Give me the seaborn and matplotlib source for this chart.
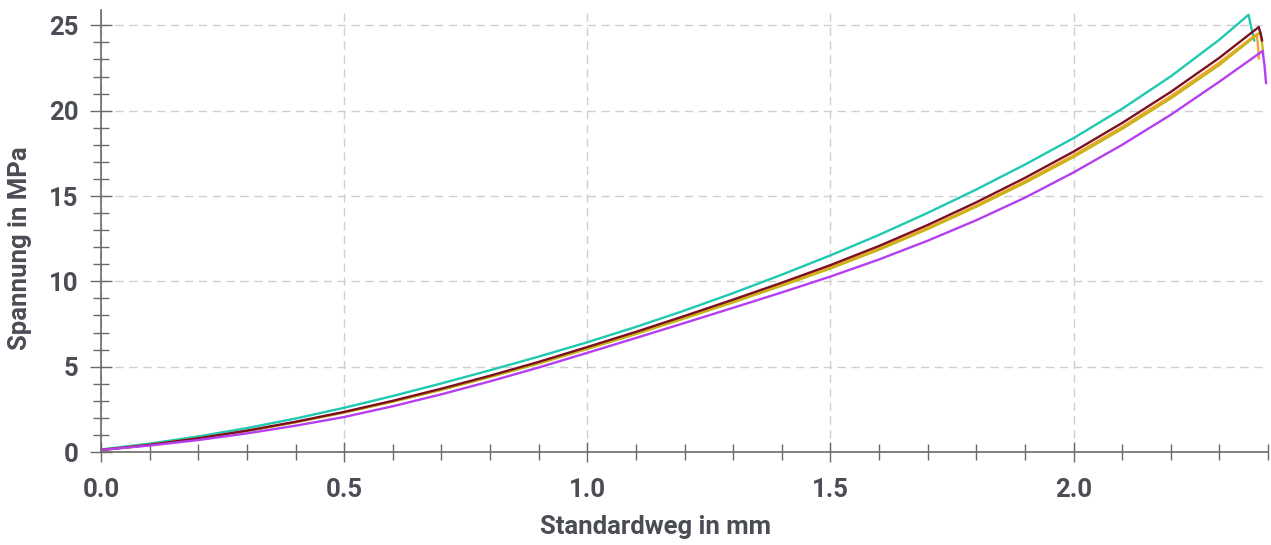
import matplotlib
matplotlib.use("Agg")
import matplotlib.pyplot as plt
from matplotlib.ticker import MultipleLocator
import seaborn as sns
import pandas as pd

# ---- data ----
x_teal = [0.00, 0.10, 0.20, 0.30, 0.40, 0.50, 0.60, 0.70, 0.80, 0.90, 1.00, 1.10, 1.20, 1.30,
          1.40, 1.50, 1.60, 1.70, 1.80, 1.90, 2.00, 2.10, 2.20, 2.30, 2.360, 2.366, 2.372]
y_teal = [0.15, 0.49, 0.91, 1.40, 1.96, 2.59, 3.28, 4.02, 4.79, 5.59, 6.43, 7.33, 8.29, 9.31,
          10.39, 11.52, 12.72, 14.01, 15.38, 16.84, 18.39, 20.11, 22.01, 24.16, 25.62, 24.80, 24.10]

x_orange = [0.00, 0.10, 0.20, 0.30, 0.40, 0.50, 0.60, 0.70, 0.80, 0.90, 1.00, 1.10, 1.20, 1.30,
            1.40, 1.50, 1.60, 1.70, 1.80, 1.90, 2.00, 2.10, 2.20, 2.30, 2.377, 2.380, 2.381]
y_orange = [0.12, 0.41, 0.79, 1.24, 1.75, 2.32, 2.96, 3.67, 4.42, 5.22, 6.08, 6.96, 7.87, 8.82,
            9.80, 10.82, 11.93, 13.14, 14.45, 15.87, 17.39, 19.05, 20.85, 22.82, 24.50, 23.60, 23.05]

x_olive = [0.00, 0.10, 0.20, 0.30, 0.40, 0.50, 0.60, 0.70, 0.80, 0.90, 1.00, 1.10, 1.20, 1.30,
           1.40, 1.50, 1.60, 1.70, 1.80, 1.90, 2.00, 2.10, 2.20, 2.30, 2.384, 2.388, 2.390]
y_olive = [0.11, 0.41, 0.79, 1.23, 1.74, 2.31, 2.95, 3.64, 4.39, 5.18, 6.04, 6.91, 7.83, 8.77,
           9.74, 10.75, 11.85, 13.06, 14.37, 15.77, 17.28, 18.93, 20.72, 22.68, 24.60, 23.90, 23.40]

x_red = [0.00, 0.10, 0.20, 0.30, 0.40, 0.50, 0.60, 0.70, 0.80, 0.90, 1.00, 1.10, 1.20, 1.30,
         1.40, 1.50, 1.60, 1.70, 1.80, 1.90, 2.00, 2.10, 2.20, 2.30, 2.381, 2.385, 2.388]
y_red = [0.12, 0.42, 0.80, 1.25, 1.77, 2.35, 3.00, 3.71, 4.47, 5.28, 6.15, 7.04, 7.97, 8.93,
         9.92, 10.95, 12.07, 13.30, 14.63, 16.06, 17.60, 19.28, 21.10, 23.10, 24.90, 24.50, 24.10]

x_purple = [0.00, 0.10, 0.20, 0.30, 0.40, 0.50, 0.60, 0.70, 0.80, 0.90, 1.00, 1.10, 1.20, 1.30,
            1.40, 1.50, 1.60, 1.70, 1.80, 1.90, 2.00, 2.10, 2.20, 2.30, 2.389, 2.393, 2.396]
y_purple = [0.12, 0.38, 0.70, 1.09, 1.54, 2.05, 2.68, 3.38, 4.14, 4.95, 5.81, 6.68, 7.56, 8.45,
            9.35, 10.28, 11.28, 12.38, 13.58, 14.90, 16.38, 18.00, 19.76, 21.70, 23.50, 22.60, 21.60]

series_names = ["Probe 1", "Probe 2", "Probe 3", "Probe 4", "Probe 5"]
series_x = [x_teal, x_orange, x_olive, x_red, x_purple]
series_y = [y_teal, y_orange, y_olive, y_red, y_purple]
series_colors = ["#1fc9b1", "#f5a236", "#c7b516", "#7b1020", "#b53ff0"]

x_label = "Standardweg in mm"
y_label = "Spannung in MPa"

# ---- figure ----
sns.set_theme(style="white")
fam = ["Roboto", "DejaVu Sans"]
plt.rcParams["font.family"] = fam

fig = plt.figure(figsize=(12.71, 5.45), dpi=100)
ax = fig.add_axes([101 / 1271, (545 - 452) / 545, (1268 - 101) / 1271, (452 - 10) / 545])

frames = []
for name, xs, ys in zip(series_names, series_x, series_y):
    frames.append(pd.DataFrame({"x": xs, "y": ys, "s": name}))
df = pd.concat(frames, ignore_index=True)

sns.lineplot(data=df, x="x", y="y", hue="s", palette=dict(zip(series_names, series_colors)),
             sort=False, estimator=None, linewidth=1.7, legend=False, ax=ax)

ax.set_xlim(0, 2.4)
ax.set_ylim(0, 25.9)
ax.xaxis.set_major_locator(MultipleLocator(0.5))
ax.xaxis.set_minor_locator(MultipleLocator(0.1))
ax.yaxis.set_major_locator(MultipleLocator(5))
ax.yaxis.set_minor_locator(MultipleLocator(1))
ax.xaxis.set_major_formatter(matplotlib.ticker.FormatStrFormatter("%.1f"))

for s in ["top", "right"]:
    ax.spines[s].set_visible(False)
for s in ["left", "bottom"]:
    ax.spines[s].set_color("#6a6a6a")
    ax.spines[s].set_linewidth(1.2)

ax.grid(True, which="major", linestyle=(0, (6, 4)), color="#cfcfcf", linewidth=1.0)
ax.set_axisbelow(True)

tc = "#4b4d55"
ax.tick_params(axis="y", which="major", direction="inout", length=16.5, width=1.0,
               color="#6a6a6a", labelsize=18.5, labelcolor=tc, pad=8)
ax.tick_params(axis="y", which="minor", direction="inout", length=11, width=1.0, color="#6a6a6a")
ax.tick_params(axis="x", which="major", direction="inout", length=14, width=1.0,
               color="#6a6a6a", labelsize=18.5, labelcolor=tc, pad=12)
ax.tick_params(axis="x", which="minor", direction="inout", length=11, width=1.0, color="#6a6a6a")
ax.tick_params(left=True, bottom=True, which="both")
for lab in ax.get_xticklabels() + ax.get_yticklabels():
    lab.set_fontweight("bold")

ax.set_xlabel(x_label, fontsize=18.5, fontweight="bold", color=tc, labelpad=10)
ax.set_ylabel(y_label, fontsize=18.5, fontweight="bold", color=tc, labelpad=12)
ax.xaxis.set_label_coords((656 - 101) / 1167, -(527 - 452) / 442, transform=ax.transAxes)
ax.xaxis.label.set_verticalalignment("center")
ax.yaxis.set_label_coords(-(101 - 20) / 1167, (452 - 248) / 442, transform=ax.transAxes)
ax.yaxis.label.set_verticalalignment("center")

fig.savefig("out.png", dpi=100)
